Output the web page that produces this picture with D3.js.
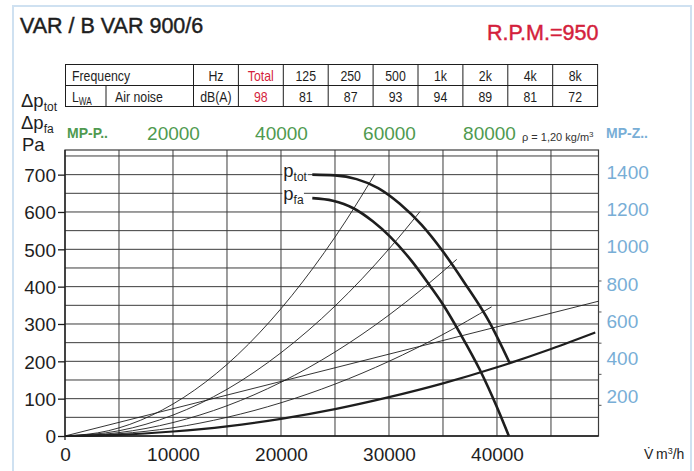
<!DOCTYPE html>
<html>
<head>
<meta charset="utf-8">
<script src="https://cdn.jsdelivr.net/npm/d3@7/dist/d3.min.js"></script>
<style>
  body { margin: 0; background: #fff; }
  svg { display: block; }
  text { font-family: "Liberation Sans", Arial, Helvetica, sans-serif; }
</style>
</head>
<body>
<svg id="chart" width="694" height="471"></svg>
<script>
// ---- chart data -----------------------------------------------------------
const chartTitle = "VAR / B VAR 900/6";
const speedLabel = "R.P.M.=950";

// sound power table
const freqBands   = ["125", "250", "500", "1k", "2k", "4k", "8k"];
const noiseTotal  = 98;
const noiseLevels = [81, 87, 93, 94, 89, 81, 72];

// axes (flow in m3/h, pressure in Pa)
const flowTicks     = [0, 10000, 20000, 30000, 40000];
const topFlowTicks  = [20000, 40000, 60000, 80000];      // MP-P scale
const pressureTicks = [0, 100, 200, 300, 400, 500, 600, 700];
const rightTicks    = [200, 400, 600, 800, 1000, 1200, 1400]; // MP-Z scale
const rightMinor    = [167, 333, 500, 667, 833];

// fan curves: total pressure and static (fa) pressure
const ptotFlow = [22900, 25000, 27000, 29000, 31000, 33000, 35000, 37000, 39300, 41150];
const ptotPa   = [700,   698,   688,   664,   622,   566,   494,   410,   305,   197];
const pfaFlow  = [22900, 24800, 26700, 28500, 30100, 32200, 33800, 35000, 36600, 38400, 40000, 41100];
const pfaPa    = [637,   630,   610,   575,   534,   465,   402,   352,   274,   178,   77,    0];

// system resistance lines through the origin
const systemA = [[0,0],[4000,14],[8000,55],[12000,123],[16000,218],[20000,341],[24000,491],[26000,576],[28700,702]];
const systemB = [[0,0],[5000,14],[10000,56],[15000,125],[20000,223],[25000,348],[30000,501],[32870,601]];
const systemC = [[0,0],[5000,9],[10000,36],[15000,81],[20000,144],[25000,225],[30000,324],[33000,392],[36270,473]];
const systemD = [[0,0],[5000,6],[10000,22],[15000,50],[20000,89],[25000,139],[30000,200],[35000,272],[39500,346]];
const systemE = [[0,0],[49400,361]];
const systemMain = [[0,0],[5000,3],[10000,12],[15000,26],[20000,46],[25000,72],[30000,104],[35000,141],[40000,184],[45000,233],[49100,277]];

// ---- drawing ----------------------------------------------------------------
const svg = d3.select("#chart");
const RED = "#d41f3c", GREEN = "#4f9a4f", BLUE = "#78aed6", INK = "#1e1e1e", GRID = "#3c3c3c";

// outer light frame
svg.append("rect").attr("x", 13).attr("y", 6).attr("width", 678).attr("height", 480)
  .attr("fill", "none").attr("stroke", "#cfe1f1").attr("stroke-width", 2);

// headings (slightly heavier than regular weight)
svg.append("text").attr("x", 20).attr("y", 33).attr("font-size", 21.5).attr("fill", INK)
  .attr("stroke", INK).attr("stroke-width", 0.45).text(chartTitle);
svg.append("text").attr("x", 487).attr("y", 40).attr("font-size", 21.5).attr("fill", RED)
  .attr("stroke", RED).attr("stroke-width", 0.45).text(speedLabel);

// ---- table ----
const tX0 = 65.5, tLabelW = 128, tColW = 44.9, tY0 = 64.5, tRowH = 21;
const table = svg.append("g").attr("font-size", 15).attr("fill", INK);
const nCols = 2 + freqBands.length;
const tX1 = tX0 + tLabelW + nCols * tColW;
table.append("rect").attr("x", tX0).attr("y", tY0).attr("width", tX1 - tX0).attr("height", 2 * tRowH)
  .attr("fill", "none").attr("stroke", INK).attr("stroke-width", 1);
table.append("line").attr("x1", tX0).attr("x2", tX1).attr("y1", tY0 + tRowH).attr("y2", tY0 + tRowH)
  .attr("stroke", INK);
for (let i = 0; i < nCols; i++) {
  const xx = tX0 + tLabelW + i * tColW;
  table.append("line").attr("x1", xx).attr("x2", xx).attr("y1", tY0).attr("y2", tY0 + 2 * tRowH).attr("stroke", INK);
}
table.append("line").attr("x1", 106).attr("x2", 106).attr("y1", tY0 + tRowH).attr("y2", tY0 + 2 * tRowH).attr("stroke", INK);

const colCenter = i => tX0 + tLabelW + (i + 0.5) * tColW;
const row1 = tY0 + 16.5, row2 = tY0 + tRowH + 16.5;
table.append("text").attr("x", 72).attr("y", row1).text("Frequency");
const row1Cells = ["Hz", "Total", ...freqBands];
const row2Cells = ["dB(A)", String(noiseTotal), ...noiseLevels.map(String)];
row1Cells.forEach((t, i) => table.append("text").attr("x", colCenter(i)).attr("y", row1)
  .attr("text-anchor", "middle").attr("fill", i === 1 ? RED : INK).text(t));
row2Cells.forEach((t, i) => table.append("text").attr("x", colCenter(i)).attr("y", row2)
  .attr("text-anchor", "middle").attr("fill", i === 1 ? RED : INK).text(t));
const lwa = table.append("text").attr("x", 72).attr("y", row2);
lwa.append("tspan").text("L");
lwa.append("tspan").attr("font-size", 10).attr("dy", 3).text("WA");
table.append("text").attr("x", 115).attr("y", row2).text("Air noise");
// condensed lettering for the table
table.selectAll("text").each(function () {
  const w = this.getComputedTextLength();
  d3.select(this).attr("textLength", w * 0.82).attr("lengthAdjust", "spacingAndGlyphs");
});

// ---- scales ----
const x = d3.scaleLinear().domain([0, 49400]).range([65, 598.5]);
const y = d3.scaleLinear().domain([0, 766]).range([436, 150]);
const xTop = d3.scaleLinear().domain([0, 98800]).range([65, 598.5]);
const yRight = d3.scaleLinear().domain([0, 1532]).range([436, 150]);

// ---- grid ----
const grid = svg.append("g").attr("stroke", GRID).attr("stroke-width", 1);
d3.range(5000, 49400, 5000).forEach(v => grid.append("line")
  .attr("x1", x(v)).attr("x2", x(v)).attr("y1", y.range()[1]).attr("y2", y(0)));
d3.range(50, 751, 50).forEach(v => grid.append("line")
  .attr("x1", x(0)).attr("x2", x.range()[1]).attr("y1", y(v)).attr("y2", y(v)));
// frame
svg.append("rect").attr("x", x(0)).attr("y", y.range()[1])
  .attr("width", x.range()[1] - x(0)).attr("height", y(0) - y.range()[1])
  .attr("fill", "none").attr("stroke", GRID).attr("stroke-width", 1.2);
svg.append("line").attr("x1", x(0)).attr("x2", x(0)).attr("y1", y.range()[1]).attr("y2", y(0) + 4)
  .attr("stroke", INK).attr("stroke-width", 1.3);
svg.append("line").attr("x1", x(0)).attr("x2", x.range()[1]).attr("y1", y(0)).attr("y2", y(0))
  .attr("stroke", INK).attr("stroke-width", 1.3);

// ---- axes ----
const axisFont = '"Liberation Sans", Arial, sans-serif';
const leftAxis = svg.append("g").attr("transform", `translate(${x(0)},0)`)
  .call(d3.axisLeft(y).tickValues(pressureTicks).tickSize(7).tickPadding(2).tickFormat(d3.format("d")));
leftAxis.select(".domain").remove();
leftAxis.selectAll("line").attr("stroke", INK).attr("stroke-width", 1.3);
leftAxis.selectAll("text").attr("font-size", 19).attr("fill", INK).attr("dy", "0.36em")
  .attr("font-family", axisFont);

const bottomAxis = svg.append("g").attr("transform", `translate(0,${y(0)})`)
  .call(d3.axisBottom(x).tickValues(flowTicks).tickSize(0).tickPadding(12).tickFormat(d3.format("d")));
bottomAxis.select(".domain").remove();
bottomAxis.selectAll("text").attr("font-size", 19).attr("fill", INK).attr("font-family", axisFont);

const topAxis = svg.append("g").attr("transform", `translate(0,140)`)
  .call(d3.axisTop(xTop).tickValues(topFlowTicks).tickSize(0).tickPadding(0).tickFormat(d3.format("d")));
topAxis.select(".domain").remove();
topAxis.selectAll("text").attr("font-size", 19).attr("fill", GREEN).attr("dy", 0)
  .attr("font-family", axisFont)
  .attr("dx", d => d === 80000 ? -8 : 0);

const rightAxis = svg.append("g").attr("transform", `translate(${x.range()[1]},0)`)
  .call(d3.axisRight(yRight).tickValues(rightTicks).tickSize(0).tickPadding(8).tickFormat(d3.format("d")));
rightAxis.select(".domain").remove();
rightAxis.selectAll("text").attr("font-size", 19).attr("fill", BLUE).attr("dy", "0.18em")
  .attr("font-family", axisFont);
const rightMinorAxis = svg.append("g").attr("transform", `translate(${x.range()[1]},0)`)
  .call(d3.axisRight(yRight).tickValues(rightMinor).tickSize(3).tickFormat(""));
rightMinorAxis.select(".domain").remove();
rightMinorAxis.selectAll("line").attr("stroke", "#555");

// axis titles
const tot = svg.append("text").attr("x", 21).attr("y", 107).attr("font-size", 18.5).attr("fill", INK);
tot.append("tspan").text("Δp");
tot.append("tspan").attr("font-size", 12).attr("dy", 4).text("tot");
const fa = svg.append("text").attr("x", 21).attr("y", 129).attr("font-size", 18.5).attr("fill", INK);
fa.append("tspan").text("Δp");
fa.append("tspan").attr("font-size", 12).attr("dy", 4).text("fa");
svg.append("text").attr("x", 22).attr("y", 151).attr("font-size", 18.5).attr("fill", INK).text("Pa");

svg.append("text").attr("x", 67).attr("y", 138).attr("font-size", 14).attr("font-weight", "bold")
  .attr("fill", GREEN).text("MP-P..");
svg.append("text").attr("x", 606).attr("y", 138).attr("font-size", 14).attr("font-weight", "bold")
  .attr("fill", BLUE).text("MP-Z..");
const rho = svg.append("text").attr("x", 522).attr("y", 141).attr("font-size", 11).attr("fill", "#333");
rho.append("tspan").text("ρ = 1,20 kg/m");
rho.append("tspan").attr("font-size", 8).attr("dy", -4).text("3");

svg.append("text").attr("x", 644).attr("y", 459).attr("font-size", 14).attr("fill", INK).text("V\u0307");
const unit = svg.append("text").attr("x", 656).attr("y", 459).attr("font-size", 14).attr("fill", INK);
unit.append("tspan").text("m");
unit.append("tspan").attr("font-size", 9).attr("dy", -5).text("3");
unit.append("tspan").attr("dy", 5).text("/h");

// ---- curves ----
const line = d3.line().x(d => x(d[0])).y(d => y(d[1])).curve(d3.curveMonotoneX);
const curves = svg.append("g").attr("fill", "none").attr("stroke", INK).attr("stroke-linejoin", "round");
[systemA, systemB, systemC, systemD, systemE].forEach(s =>
  curves.append("path").attr("d", line(s)).attr("stroke-width", 0.9));
curves.append("path").attr("d", line(systemMain)).attr("stroke-width", 2.2);

const ptot = d3.zip(ptotFlow, ptotPa);
const pfa = d3.zip(pfaFlow, pfaPa);
curves.append("path").attr("d", line(ptot)).attr("stroke-width", 2.6);
curves.append("path").attr("d", line(pfa)).attr("stroke-width", 2.6);

// curve labels with a white knock-out behind them
function curveLabel(sub, pt) {
  const g = svg.append("g");
  const bg = g.append("rect").attr("fill", "#fff");
  const t = g.append("text").attr("x", x(pt[0]) - 29).attr("y", y(pt[1]) + 2)
    .attr("font-size", 18.5).attr("fill", INK);
  t.append("tspan").text("p");
  t.append("tspan").attr("font-size", 12).attr("dy", 4).text(sub);
  const b = t.node().getBBox();
  bg.attr("x", b.x - 1).attr("y", b.y + 2).attr("width", b.width + 1).attr("height", b.height - 2);
}
curveLabel("tot", ptot[0]);
curveLabel("fa", pfa[0]);
</script>
</body>
</html>
